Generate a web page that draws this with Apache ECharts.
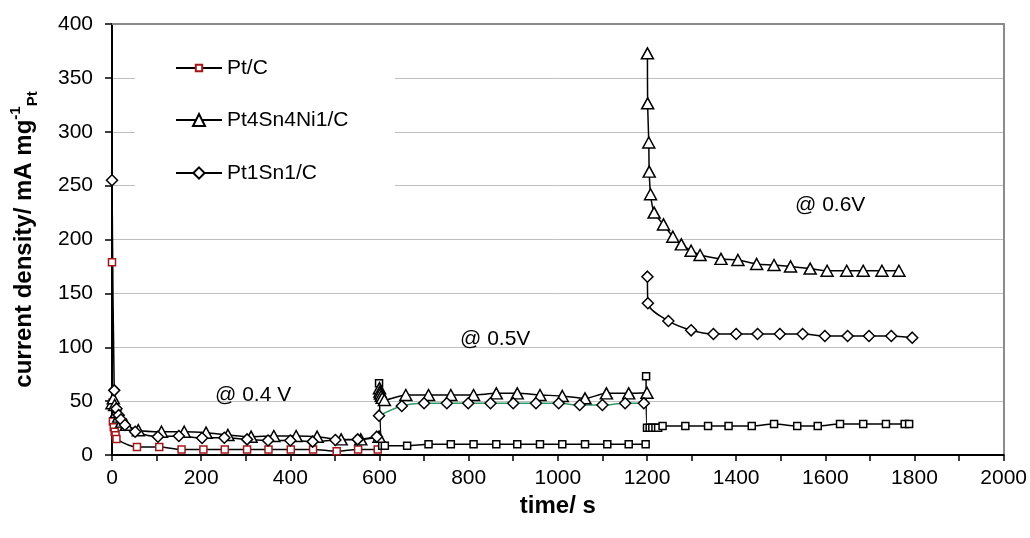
<!DOCTYPE html>
<html>
<head>
<meta charset="utf-8">
<script src="https://cdn.jsdelivr.net/npm/echarts@6/dist/echarts.min.js"></script>
<style>html,body{margin:0;padding:0;background:#fff;}#c{width:1030px;height:538px;}</style>
</head>
<body>
<div id="c"></div>
<script>
// ---- data (time in s, current density in mA mg-1 Pt) ----
const seriesNames = ['Pt/C', 'Pt4Sn4Ni1/C', 'Pt1Sn1/C'];
const xTicks = [0, 200, 400, 600, 800, 1000, 1200, 1400, 1600, 1800, 2000];
const yTicks = [0, 50, 100, 150, 200, 250, 300, 350, 400];
const annotations = ['@ 0.4 V', '@ 0.5V', '@ 0.6V'];

// Pt/C
const ptcT1 = [0, 1, 2, 4, 6, 8, 10, 56, 106, 156, 205, 253, 303, 351, 401, 451, 504, 552, 596];
const ptcV1 = [179, 48.5, 31, 25.7, 21.6, 18.3, 14.8, 7.5, 7.5, 5.2, 5.2, 5.2, 5.2, 5.2, 5.2, 5.2, 3.5, 5.2, 5.2];
const ptcT2 = [599, 606, 612, 662, 710, 760, 811, 862, 909, 960, 1010, 1061, 1111, 1159, 1197];
const ptcV2 = [66.5, 8.6, 8.6, 8.6, 10, 10, 10, 10, 10, 10, 10, 10, 10, 10, 10];
const ptcT3 = [1198, 1200, 1206, 1212, 1219, 1225, 1235, 1286, 1337, 1383, 1435, 1485, 1537, 1583, 1633, 1685, 1736, 1778, 1788];
const ptcV3 = [73, 25.4, 25.4, 25.4, 25.4, 25.4, 27, 27, 27, 27, 27, 28.8, 27, 27, 28.8, 28.8, 28.8, 28.8, 28.8];

// Pt4Sn4Ni1/C
const psnT1 = [0, 3, 6, 10, 15, 22, 32, 59, 111, 162, 211, 260, 312, 363, 413, 460, 514, 558, 599];
const psnV1 = [48, 52.6, 46.4, 40, 35.6, 31, 28, 23, 21.6, 21.6, 20.7, 18.6, 17, 17.6, 17.6, 17, 14.5, 14.5, 17];
const psnT2 = [600, 601, 602, 604, 606, 611, 659, 710, 760, 811, 862, 909, 960, 1010, 1061, 1109, 1159, 1200];
const psnV2 = [62, 59, 57, 55, 53, 51, 55.7, 55.7, 55.7, 55.7, 57.2, 57.2, 55.7, 54.8, 52.6, 57.2, 57.2, 57.8];
const psnT3 = [1201, 1201.5, 1204, 1205, 1208, 1216, 1237, 1258, 1277, 1299, 1319, 1366, 1404, 1446, 1485, 1522, 1566, 1604, 1648, 1685, 1727, 1765];
const psnV3 = [372.8, 326.4, 290, 263, 242, 225, 214, 202.6, 195.5, 189.6, 185.6, 182, 181, 177.3, 176.3, 175, 173, 171, 171, 171, 171, 171];

// Pt1Sn1/C
const pssT1 = [0, 5, 10, 15, 20, 29, 52, 103, 150, 202, 252, 303, 350, 400, 450, 501, 551, 594];
const pssV1 = [255, 60, 43, 37, 33, 27.8, 21.6, 17, 17.6, 15.8, 16, 14.5, 13.5, 13.5, 12.4, 13.9, 14.5, 17];
const pssT2 = [599, 650, 700, 751, 799, 849, 900, 951, 1002, 1049, 1100, 1151, 1193];
const pssV2 = [36.5, 45.5, 48, 48, 48, 48, 48, 48, 48, 46.4, 46.4, 48, 48];
const pssT3 = [1201, 1202, 1248, 1299, 1349, 1400, 1448, 1498, 1549, 1599, 1650, 1698, 1748, 1795];
const pssV3 = [165.5, 140.8, 124.4, 115.7, 112.3, 112.3, 112.3, 112.3, 112.3, 110.4, 110.4, 110.4, 110.4, 108.9];

// ---- chart ----
const FONT = 'Liberation Sans, Arial, sans-serif';
const zip = (t, v) => t.map((x, i) => [x, v[i]]);
const chart = echarts.init(document.getElementById('c'), null, {renderer: 'canvas'});

function seg(name, t, v, symbol, size, border, lineColor) {
  return {
    type: 'line', name: name, data: zip(t, v),
    symbol: symbol, symbolSize: size, showSymbol: true,
    smooth: 0.3,
    itemStyle: {color: '#fff', borderColor: border, borderWidth: 1.5},
    lineStyle: {color: lineColor || '#000', width: 1.5},
    emphasis: {disabled: true},
    animation: false, z: 3
  };
}
const RED = '#a3171b';
const series = [
  seg(seriesNames[0], ptcT1, ptcV1, 'rect', 7, RED),
  seg(seriesNames[0], ptcT2, ptcV2, 'rect', 7, '#000'),
  seg(seriesNames[0], ptcT3, ptcV3, 'rect', 7, '#000'),
  seg(seriesNames[1], psnT1, psnV1, 'triangle', [12, 11], '#000'),
  seg(seriesNames[1], psnT2, psnV2, 'triangle', [12, 11], '#000'),
  seg(seriesNames[1], psnT3, psnV3, 'triangle', [12, 11], '#000'),
  seg(seriesNames[2], pssT1, pssV1, 'diamond', 11, '#000'),
  seg(seriesNames[2], pssT2, pssV2, 'diamond', 11, '#000', '#339966'),
  seg(seriesNames[2], pssT3, pssV3, 'diamond', 11, '#000')
];

const legendBase = {
  orient: 'vertical', left: 175, padding: 0, itemWidth: 46,
  selectedMode: false,
  textStyle: {fontSize: 21, fontFamily: FONT, color: '#000', lineHeight: 21}
};

const option = {
  backgroundColor: '#fff',
  animation: false,
  grid: {left: 110, right: 26, top: 24, bottom: 83, containLabel: false},
  xAxis: [{
    type: 'value', min: xTicks[0], max: xTicks[xTicks.length - 1], interval: 100,
    name: 'time/ s', nameLocation: 'middle', nameGap: 39,
    nameTextStyle: {fontSize: 24, fontWeight: 'bold', fontFamily: FONT, color: '#000'},
    axisLine: {show: true, lineStyle: {color: '#000', width: 2}},
    axisTick: {show: true, inside: false, length: 6, lineStyle: {color: '#000', width: 1.5}},
    axisLabel: {
      fontSize: 21, fontFamily: FONT, color: '#000', margin: 13,
      formatter: v => (xTicks.indexOf(v) >= 0 ? String(v) : '')
    },
    splitLine: {show: false}
  }, {
    type: 'value', position: 'top', min: 0, max: 2000,
    axisLine: {show: true, onZero: false, lineStyle: {color: '#8a8a8a', width: 2}},
    axisTick: {show: false}, axisLabel: {show: false}, splitLine: {show: false}
  }],
  yAxis: [{
    type: 'value', min: yTicks[0], max: yTicks[yTicks.length - 1], interval: 50,
    name: '{a|current density/ mA mg}{b|-1}{c|Pt}',
    nameLocation: 'middle', nameGap: 72, nameRotate: 90,
    nameTextStyle: {
      color: '#000', fontFamily: FONT,
      rich: {
        a: {fontSize: 24, fontWeight: 'bold', fontFamily: FONT, color: '#000', lineHeight: 32, verticalAlign: 'middle'},
        b: {fontSize: 15, fontWeight: 'bold', fontFamily: FONT, color: '#000', lineHeight: 17, verticalAlign: 'top'},
        c: {fontSize: 15, fontWeight: 'bold', fontFamily: FONT, color: '#000', lineHeight: 17, verticalAlign: 'bottom'}
      }
    },
    axisLine: {show: true, lineStyle: {color: '#000', width: 2}},
    axisTick: {show: true, inside: false, length: 7, lineStyle: {color: '#000', width: 1.5}},
    axisLabel: {fontSize: 21, fontFamily: FONT, color: '#000', margin: 19},
    splitLine: {show: true, lineStyle: {color: '#bfbfbf', width: 1}}
  }, {
    type: 'value', position: 'right', min: 0, max: 400,
    axisLine: {show: true, onZero: false, lineStyle: {color: '#8a8a8a', width: 2}},
    axisTick: {show: false}, axisLabel: {show: false}, splitLine: {show: false}
  }],
  legend: [
    Object.assign({}, legendBase, {data: [seriesNames[0]], top: 57.5, itemHeight: 8}),
    Object.assign({}, legendBase, {data: [seriesNames[1]], top: 109.5, itemHeight: 15}),
    Object.assign({}, legendBase, {data: [seriesNames[2]], top: 162.5, itemHeight: 14})
  ],
  graphic: {elements: [
    {type: 'rect', z: 1, silent: true, shape: {x: 135, y: 45, width: 260, height: 150}, style: {fill: '#fff'}},
    {type: 'text', z: 5, silent: true, style: {x: 215, y: 395, text: annotations[0], font: '21px ' + FONT, fill: '#000', textVerticalAlign: 'middle'}},
    {type: 'text', z: 5, silent: true, style: {x: 460, y: 339, text: annotations[1], font: '21px ' + FONT, fill: '#000', textVerticalAlign: 'middle'}},
    {type: 'text', z: 5, silent: true, style: {x: 795, y: 205, text: annotations[2], font: '21px ' + FONT, fill: '#000', textVerticalAlign: 'middle'}}
  ]},
  series: series
};
chart.setOption(option);
</script>
</body>
</html>
